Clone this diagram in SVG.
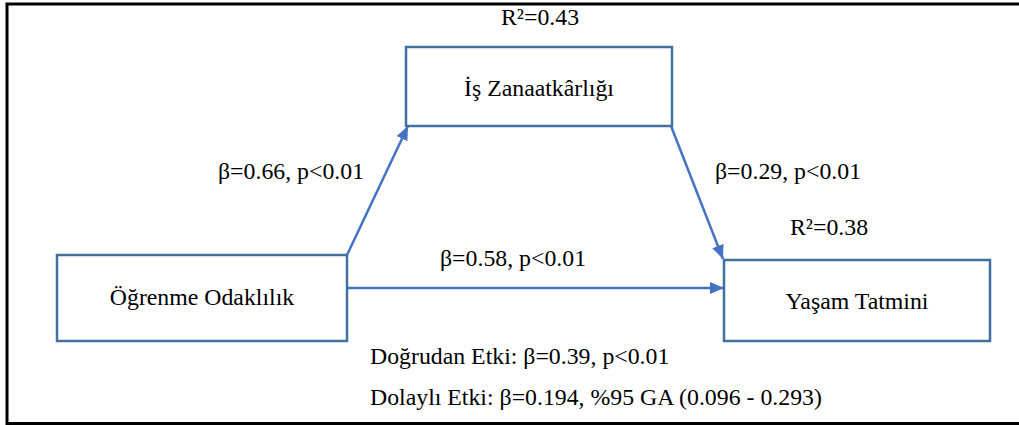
<svg xmlns="http://www.w3.org/2000/svg" width="1019" height="425" viewBox="0 0 1019 425" font-family="'Liberation Serif', 'Times New Roman', serif" font-size="23.8">
<defs>
<style>
.mid{text-anchor:middle}
.box{fill:#fff;stroke:#41719C;stroke-width:2.5}
.edge{stroke:#4472C4;stroke-width:2.5;fill:none;marker-end:url(#ah)}
</style>
<marker id="ah" viewBox="0 0 14 12" refX="14" refY="6" markerWidth="14" markerHeight="12" markerUnits="userSpaceOnUse" orient="auto"><path d="M0,0 L14,6 L0,12 z" fill="#4472C4"/></marker>
</defs>
<rect width="1019" height="425" fill="#fff"/>
<path d="M7,425 V4 H1019 M7,423.5 H1019" stroke="#000" stroke-width="3" fill="none"/>
<g id="connectors">
<line class="edge" x1="347" y1="255" x2="408" y2="126"/>
<line class="edge" x1="671" y1="126" x2="723" y2="259"/>
<line class="edge" x1="347" y1="288" x2="724" y2="288"/>
</g>
<g id="node-is-zanaatkarligi">
<rect class="box" x="406" y="47" width="266" height="79"/>
<text class="mid" x="539" y="96">İş Zanaatkârlığı</text>
</g>
<g id="node-ogrenme-odaklilik">
<rect class="box" x="57" y="255" width="290" height="86"/>
<text class="mid" x="202" y="305">Öğrenme Odaklılık</text>
</g>
<g id="node-yasam-tatmini">
<rect class="box" x="724" y="260" width="266" height="81"/>
<text class="mid" x="857" y="309">Yaşam Tatmini</text>
</g>
<g id="labels">
<text class="mid" x="540" y="25">R²=0.43</text>
<text x="218" y="179">β=0.66, p&lt;0.01</text>
<text x="715" y="179">β=0.29, p&lt;0.01</text>
<text x="790" y="235">R²=0.38</text>
<text x="440" y="266">β=0.58, p&lt;0.01</text>
<text x="370" y="364">Doğrudan Etki: β=0.39, p&lt;0.01</text>
<text x="370" y="405">Dolaylı Etki: β=0.194, %95 GA (0.096 - 0.293)</text>
</g>
</svg>
